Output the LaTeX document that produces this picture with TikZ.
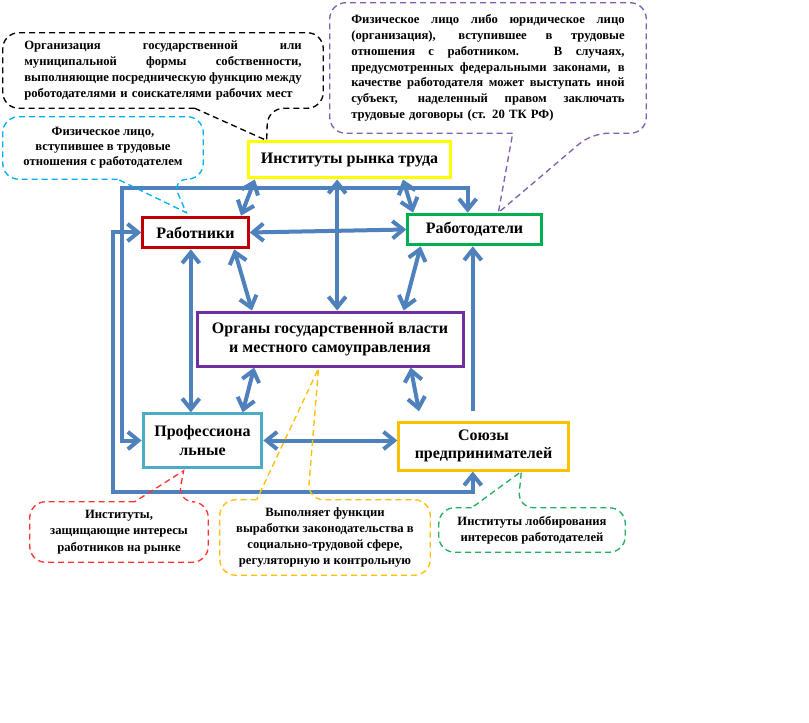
\documentclass[tikz,border=0pt]{standalone}
\usepackage{fontspec}
\setmainfont{Liberation Serif}
\usetikzlibrary{calc,arrows.meta}
\definecolor{arrowblue}{HTML}{4F81BD}
\definecolor{ybox}{HTML}{FFFF00}
\definecolor{rbox}{HTML}{C00000}
\definecolor{gbox}{HTML}{00B050}
\definecolor{pbox}{HTML}{7030A0}
\definecolor{cbox}{HTML}{4BACC6}
\definecolor{obox}{HTML}{FFC000}
\definecolor{cyanb}{HTML}{00B0F0}
\definecolor{purpb}{HTML}{8060B0}
\definecolor{redb}{HTML}{FF3333}
\definecolor{greenb}{HTML}{22B060}
\newcommand{\jline}[2]{\makebox[#1][s]{\spaceskip=0pt\xspaceskip=0pt #2}\\}
\begin{document}
\begin{tikzpicture}[x=0.75pt,y=-0.75pt,
  box/.style={draw, line width=2.25pt, align=center, inner sep=0pt,
    font=\bfseries\fontsize{12}{14}\selectfont},
  bubtext/.style={inner sep=0pt, font=\bfseries\fontsize{9.5}{11.8}\selectfont},
  bub/.style={line width=1pt, dash pattern=on 4.5pt off 3pt, rounded corners=12pt},
  arr/.style={draw=arrowblue, line width=3pt, line join=miter,
    >={Straight Barb[length=8pt,width=13pt]}}]
\fill[white] (0,0) rectangle (809,723);
\useasboundingbox (0,0) rectangle (809,723);

% boxes
\node[box, draw=ybox, minimum width=152pt, minimum height=27pt] (inst) at (349.5,160) {Институты рынка труда};
\node[box, draw=rbox, minimum width=79pt, minimum height=23pt] (rab) at (195.5,232.5) {Работники};
\node[box, draw=gbox, minimum width=100pt, minimum height=23pt] (rabd) at (474.5,229.5) {Работодатели};
\node[box, draw=pbox, minimum width=199.5pt, minimum height=40.5pt] (org) at (330,339) {Органы государственной власти\\и местного самоуправления};
\node[box, draw=cbox, minimum width=89pt, minimum height=40pt] (prof) at (202.5,440.5) {Профессиона\\льные};
\node[box, draw=obox, minimum width=127pt, minimum height=36pt] (soyuz) at (483.5,446) {Союзы\\предпринимателей};

% corner points of the two loops
\coordinate (cA) at (122,188);
\coordinate (cB) at (113,492);

% connectors
\draw[arr,<->] ($(inst.south west)!0.04!(inst.south east)$) -- ($(rab.north west)!0.92!(rab.north east)$);
\draw[arr,<->] ($(inst.south west)!0.44!(inst.south east)$) coordinate (p2) -- (p2 |- org.north);
\draw[arr,<->] ($(inst.south west)!0.76!(inst.south east)$) -- ($(rabd.north west)!0.05!(rabd.north east)$);
\draw[arr,<->] (rab.east) -- (rabd.west);
\draw[arr,<->] ($(rab.south west)!0.857!(rab.south east)$) -- ($(org.north west)!0.21!(org.north east)$);
\draw[arr,<->] ($(rabd.south west)!0.105!(rabd.south east)$) -- ($(org.north west)!0.774!(org.north east)$);
\draw[arr,<->] ($(rab.south west)!0.457!(rab.south east)$) coordinate (p7) -- (p7 |- prof.north);
\draw[arr,<->] ($(org.south west)!0.218!(org.south east)$) -- ($(prof.north west)!0.83!(prof.north east)$);
\draw[arr,<->,shorten >=7pt] ($(org.south west)!0.80!(org.south east)$) -- ($(soyuz.north west)!0.136!(soyuz.north east)$);
\draw[arr,<->] (prof.east) -- (prof.east -| soyuz.west);
\draw[arr,->,shorten <=7pt] ($(soyuz.north west)!0.438!(soyuz.north east)$) coordinate (p11) -- (p11 |- rabd.south);
\draw[arr,<->] ($(rabd.north west)!0.45!(rabd.north east)$) |- (cA) |- (prof.west);
\draw[arr,<->] (rab.west) -| (cB) -| ($(soyuz.south west)!0.438!(soyuz.south east)$);

% callout texts
\node[bubtext, minimum width=240pt, minimum height=56.25pt, text width=208pt, align=left] (cb) at (163,70.5) {%
\jline{208pt}{Организация государственной или}%
\jline{208pt}{муниципальной формы собственности,}%
\jline{208pt}{выполняющие посредническую функцию между}%
роботодателями и соискателями рабочих мест};
\node[bubtext, minimum width=237pt, minimum height=97.5pt, text width=205pt, align=left] (cp) at (488,68) {%
\jline{205pt}{Физическое лицо либо юридическое лицо}%
\jline{205pt}{(организация), вступившее в трудовые}%
\jline{205pt}{отношения с работником. В случаях,}%
\jline{205pt}{предусмотренных федеральными законами, в}%
\jline{205pt}{качестве работодателя может выступать иной}%
\jline{205pt}{субъект, наделенный правом заключать}%
трудовые договоры (ст. 20 ТК РФ)};
\node[bubtext, minimum width=150pt, minimum height=46.5pt, align=center, font=\bfseries\fontsize{9.5}{11.3}\selectfont] (cc) at (103,148) {Физическое лицо,\\вступившее в трудовые\\отношения с работодателем};
\node[bubtext, minimum width=133.5pt, minimum height=45pt, align=center, font=\bfseries\fontsize{9.5}{12.4}\selectfont] (cr) at (119,532) {Институты,\\защищающие интересы\\работников на рынке};
\node[bubtext, minimum width=157.5pt, minimum height=56.25pt, align=center, font=\bfseries\fontsize{9.5}{12}\selectfont] (cy) at (325,537.5) {Выполняет функции\\выработки законодательства в\\социально-трудовой сфере,\\регуляторную и контрольную};
\node[bubtext, minimum width=139.5pt, minimum height=33pt, align=center, font=\bfseries\fontsize{9.5}{12}\selectfont] (cg) at (532,530) {Институты лоббирования\\интересов работодателей};

% tail tips
\coordinate (tb) at ($(inst.north west)+(20,0)$);
\coordinate (tp) at ($(rabd.north west)+(92,0)$);
\coordinate (tc) at ($(rab.north west)+(45,-3)$);
\coordinate (tr) at ($(prof.south west)+(42,2)$);
\coordinate (ty) at ($(org.south west)+(123,1)$);
\coordinate (tg) at ($(soyuz.south west)+(124,0)$);

% callout outlines with tails
\draw[bub, draw=black] ($(cb.south west)+(192,0)$) -- (cb.south west) -- (cb.north west) -- (cb.north east) -- (cb.south east) -- ($(cb.south west)+(265,0)$) [sharp corners] -- (tb) -- cycle;
\draw[bub, draw=purpb] ($(cp.south west)+(183,0)$) -- (cp.south west) -- (cp.north west) -- (cp.north east) -- (cp.south east) -- ($(cp.south west)+(262,0)$) [sharp corners] -- (tp) -- cycle;
\draw[bub, draw=cyanb] ($(cc.south west)+(115,0)$) -- (cc.south west) -- (cc.north west) -- (cc.north east) -- (cc.south east) -- ($(cc.south west)+(169,0)$) [sharp corners] -- (tc) -- cycle;
\draw[bub, draw=redb] ($(cr.north west)+(105,0)$) -- (cr.north west) -- (cr.south west) -- (cr.south east) -- (cr.north east) -- ($(cr.north west)+(148,0)$) [sharp corners] -- (tr) -- cycle;
\draw[bub, draw=obox] ($(cy.north west)+(37,0)$) -- (cy.north west) -- (cy.south west) -- (cy.south east) -- (cy.north east) -- ($(cy.north west)+(88,0)$) [sharp corners] -- (ty) -- cycle;
\draw[bub, draw=greenb] ($(cg.north west)+(33,0)$) -- (cg.north west) -- (cg.south west) -- (cg.south east) -- (cg.north east) -- ($(cg.north west)+(79,0)$) [sharp corners] -- (tg) -- cycle;
\end{tikzpicture}
\end{document}
